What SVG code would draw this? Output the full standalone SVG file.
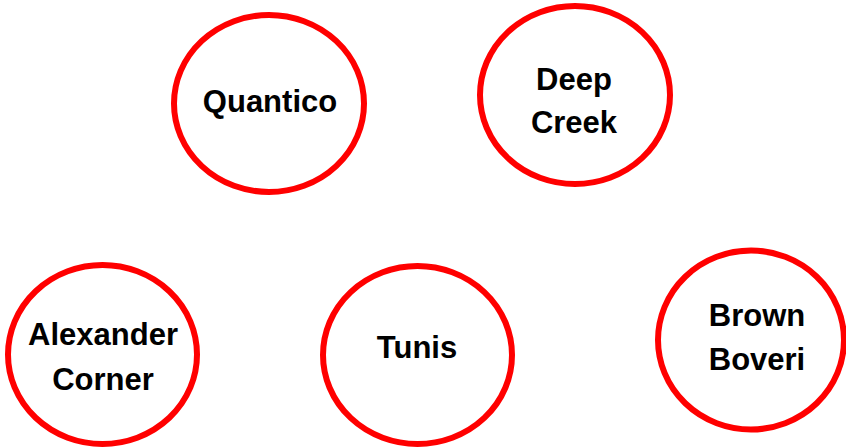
<svg xmlns="http://www.w3.org/2000/svg" width="846" height="448" viewBox="0 0 846 448">
<style>
.node ellipse{fill:#fff;stroke:#f00;stroke-width:6}
.node text{font-family:"Liberation Sans",Arial,sans-serif;font-weight:bold;font-size:31px;fill:#000;text-anchor:middle}
</style>
<rect width="846" height="448" fill="#fff"/>
<g id="connectors"/>
<g id="quantico" class="node"><ellipse cx="269" cy="103.5" rx="95" ry="88.5"/><text x="270" y="112">Quantico</text></g>
<g id="deep-creek" class="node"><ellipse cx="575" cy="95" rx="95" ry="89"/><text x="574" y="90">Deep</text><text x="574" y="133">Creek</text></g>
<g id="alexander-corner" class="node"><ellipse cx="102.5" cy="354.5" rx="94.5" ry="89.5"/><text x="103" y="345">Alexander</text><text x="103" y="390">Corner</text></g>
<g id="tunis" class="node"><ellipse cx="417.5" cy="355" rx="94.5" ry="89"/><text x="417" y="358">Tunis</text></g>
<g id="brown-boveri" class="node"><ellipse cx="751" cy="340" rx="93" ry="89.5"/><text x="757" y="326">Brown</text><text x="757" y="370">Boveri</text></g>
</svg>
